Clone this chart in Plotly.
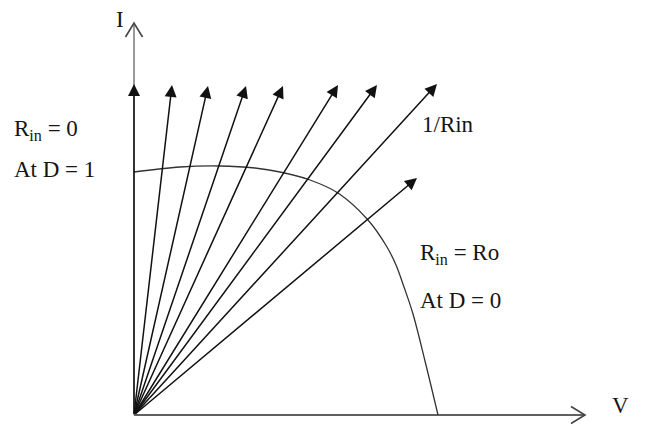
import plotly.graph_objects as go

# Operating lines 1/Rin: end points of each load line (V, I) drawn from the origin
load_v = [0, 38, 74, 112, 149, 204, 243, 303, 283]
load_i = [331, 330, 329, 329, 329, 330, 330, 331, 237]

# I-V characteristic of the source
curve_v = [0, 46, 86, 121, 146, 176, 204, 234, 253, 262, 270, 279, 291, 304]
curve_i = [243, 248, 249, 247, 243, 235, 222, 195, 168, 150, 128, 101, 54, 0]

# Axis extents and open-arrow size
v_axis_end = 451
i_axis_end = 392
chev_len = 14
chev_half = 8.5

FONT = "Liberation Serif"
TXT = dict(family=FONT, size=23, color="#151515")

fig = go.Figure()

# Axes
fig.add_trace(go.Scatter(
    x=[0, 0], y=[0, i_axis_end], mode="lines",
    line=dict(color="#808080", width=1.6), hoverinfo="skip",
))
fig.add_trace(go.Scatter(
    x=[-chev_half, 0, chev_half],
    y=[i_axis_end - chev_len, i_axis_end, i_axis_end - chev_len],
    mode="lines", line=dict(color="#444", width=1.6), hoverinfo="skip",
))
fig.add_trace(go.Scatter(
    x=[0, v_axis_end], y=[0, 0], mode="lines",
    line=dict(color="#606060", width=2), hoverinfo="skip",
))
fig.add_trace(go.Scatter(
    x=[v_axis_end - chev_len, v_axis_end, v_axis_end - chev_len],
    y=[chev_half, 0, -chev_half],
    mode="lines", line=dict(color="#444", width=1.6), hoverinfo="skip",
))

# I-V curve
fig.add_trace(go.Scatter(
    x=curve_v, y=curve_i, mode="lines", line_shape="spline",
    line=dict(color="#333", width=1.3), hoverinfo="skip",
))

annotations = []

# Load lines with filled arrowheads
for v, i in zip(load_v, load_i):
    annotations.append(dict(
        x=v, y=i, ax=0, ay=0, xref="x", yref="y", axref="x", ayref="y",
        showarrow=True, arrowhead=2, arrowsize=1.6, arrowwidth=1.5,
        arrowcolor="#111", text="",
    ))

labels = [
    ("I", -14, 396, "center"),
    ("R<sub>in</sub> = 0", -122, 285, "left"),
    ("At D = 1", -122, 246, "left"),
    ("1/Rin", 286, 291, "left"),
    ("R<sub>in</sub> = Ro", 284, 161, "left"),
    ("At D = 0", 284, 115, "left"),
    ("V", 486, 10, "center"),
]
for t, x, y, anc in labels:
    annotations.append(dict(
        x=x, y=y, xref="x", yref="y", text=t, showarrow=False,
        xanchor=anc, yanchor="middle", font=TXT,
    ))

fig.update_layout(
    width=650, height=426,
    margin=dict(l=0, r=0, t=0, b=0),
    paper_bgcolor="white", plot_bgcolor="white",
    xaxis=dict(range=[-134, 516], visible=False, fixedrange=True),
    yaxis=dict(range=[-11, 415], visible=False, fixedrange=True),
    annotations=annotations,
    showlegend=False,
)

fig.write_html("out.html")
